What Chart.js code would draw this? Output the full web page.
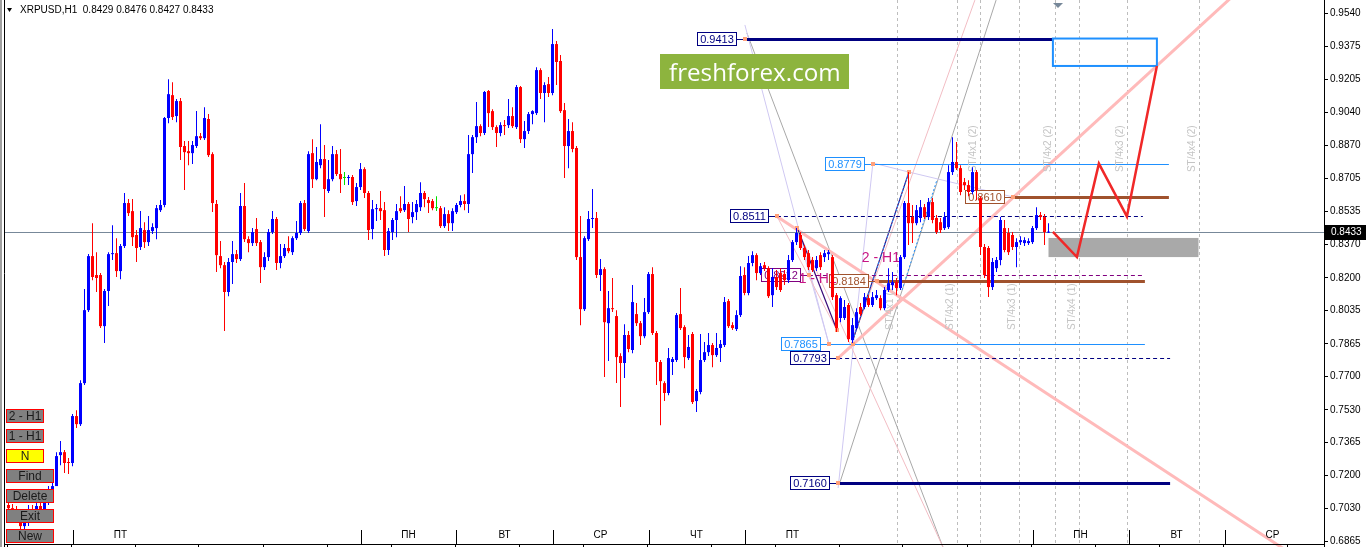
<!DOCTYPE html>
<html><head><meta charset="utf-8">
<script src="https://cdn.jsdelivr.net/npm/chart.js@4.4.1/dist/chart.umd.min.js"></script>
<style>html,body{margin:0;padding:0;background:#fff;overflow:hidden}</style>
</head><body>
<canvas id="c" width="1366" height="547"></canvas>
<script>
const titleText = 'XRPUSD,H1  0.8429 0.8476 0.8427 0.8433';
const lastPrice = 0.8433;

const openP = [
0.7048,0.7032,0.7012,0.6982,0.6941,0.6962,0.7027,0.7012,0.7043,0.7027,
0.7063,0.7124,0.7144,0.7301,0.7316,0.7266,0.7261,0.7499,0.7458,0.7666,
0.8036,0.8310,0.8214,0.8214,0.7955,0.8133,0.8320,0.8325,0.8234,0.8361,
0.8579,0.8538,0.8417,0.8356,0.8442,0.8381,0.8437,0.8452,0.8543,0.8569,
0.9010,0.9126,0.9020,0.9096,0.8868,0.8842,0.8832,0.8868,0.8918,0.8908,
0.9005,0.8827,0.8574,0.8310,0.8264,0.8128,0.8280,0.8320,0.8295,0.8564,
0.8396,0.8376,0.8447,0.8381,0.8254,0.8305,0.8432,0.8498,0.8275,0.8310,
0.8351,0.8330,0.8401,0.8427,0.8579,0.8437,0.8832,0.8700,0.8771,0.8802,
0.8640,0.8700,0.8827,0.8726,0.8706,0.8706,0.8711,0.8589,0.8660,0.8751,
0.8630,0.8447,0.8548,0.8553,0.8543,0.8341,0.8432,0.8493,0.8553,0.8543,
0.8574,0.8508,0.8533,0.8558,0.8630,0.8594,0.8589,0.8553,0.8553,0.8462,
0.8523,0.8477,0.8533,0.8569,0.8589,0.8574,0.8827,0.8913,0.8969,0.8934,
0.9147,0.9045,0.8964,0.8934,0.8974,0.8974,0.9020,0.8964,0.9167,0.8903,
0.8944,0.9030,0.9035,0.9253,0.9137,0.9182,0.9137,0.9385,0.9299,0.9050,
0.8868,0.8944,0.8858,0.8305,0.8041,0.8396,0.8498,0.8503,0.8214,0.8244,
0.7970,0.8046,0.8006,0.7803,0.7768,0.7910,0.7834,0.8016,0.7970,0.7904,
0.8026,0.8219,0.7920,0.7773,0.7666,0.7616,0.7773,0.7783,0.8016,0.7950,
0.7793,0.7915,0.7575,0.7621,0.7783,0.7823,0.7859,0.7808,0.7844,0.7859,
0.8082,0.7960,0.7940,0.8011,0.8214,0.8123,0.8275,0.8315,0.8224,0.8264,
0.8249,0.8112,0.8204,0.8224,0.8219,0.8188,0.8290,0.8381,0.8417,0.8351,
0.8325,0.8290,0.8249,0.8315,0.8305,0.8320,0.8305,0.8112,0.7996,0.7996,
0.8062,0.7884,0.7945,0.8052,0.8052,0.8097,0.8062,0.8097,0.8097,0.8046,
0.8138,0.8163,0.8178,0.8148,0.8305,0.8579,0.8508,0.8477,0.8503,0.8558,
0.8508,0.8584,0.8503,0.8482,0.8452,0.8457,0.8736,0.8787,0.8756,0.8685,
0.8670,0.8635,0.8736,0.8604,0.8356,0.8351,0.8153,0.8249,0.8290,0.8452,
0.8427,0.8417,0.8356,0.8381,0.8376,0.8376,0.8381,0.8452,0.8518,0.8508,
0.8429];

const closeP = [
0.7032,0.7012,0.6982,0.6941,0.6962,0.7027,0.7012,0.7043,0.7027,0.7063,
0.7124,0.7144,0.7296,0.7316,0.7261,0.7261,0.7499,0.7458,0.7666,0.8036,
0.8310,0.8204,0.8199,0.7955,0.8133,0.8320,0.8325,0.8234,0.8361,0.8579,
0.8528,0.8406,0.8351,0.8452,0.8381,0.8442,0.8457,0.8553,0.8569,0.9010,
0.9131,0.9015,0.9096,0.8863,0.8837,0.8832,0.8873,0.8918,0.8908,0.9010,
0.8822,0.8579,0.8315,0.8264,0.8128,0.8280,0.8320,0.8295,0.8564,0.8396,
0.8376,0.8432,0.8376,0.8254,0.8305,0.8432,0.8498,0.8275,0.8310,0.8351,
0.8335,0.8401,0.8427,0.8579,0.8447,0.8827,0.8700,0.8787,0.8802,0.8650,
0.8700,0.8827,0.8726,0.8700,0.8706,0.8711,0.8584,0.8660,0.8751,0.8630,
0.8442,0.8548,0.8553,0.8538,0.8341,0.8437,0.8493,0.8538,0.8538,0.8574,
0.8498,0.8533,0.8574,0.8630,0.8599,0.8579,0.8553,0.8553,0.8462,0.8523,
0.8477,0.8538,0.8569,0.8589,0.8574,0.8827,0.8913,0.8969,0.8934,0.9142,
0.9035,0.8964,0.8934,0.8974,0.8969,0.9020,0.8969,0.9167,0.8903,0.8944,
0.9030,0.9045,0.9253,0.9137,0.9177,0.9137,0.9385,0.9294,0.9045,0.8868,
0.8944,0.8853,0.8305,0.8041,0.8401,0.8498,0.8503,0.8214,0.8244,0.7975,
0.8046,0.8041,0.7798,0.7768,0.7910,0.7839,0.8077,0.7970,0.7904,0.8026,
0.8219,0.7920,0.7773,0.7676,0.7616,0.7793,0.7788,0.8011,0.7945,0.7798,
0.7849,0.7570,0.7626,0.7783,0.7823,0.7859,0.7808,0.7844,0.7864,0.8077,
0.7955,0.7945,0.8011,0.8209,0.8123,0.8275,0.8315,0.8224,0.8259,0.8249,
0.8107,0.8204,0.8153,0.8138,0.8188,0.8290,0.8381,0.8427,0.8351,0.8305,
0.8254,0.8239,0.8290,0.8254,0.8325,0.8330,0.8102,0.7945,0.8097,0.8052,
0.7889,0.7960,0.8026,0.8016,0.8102,0.8062,0.8102,0.8112,0.8046,0.8138,
0.8173,0.8178,0.8148,0.8305,0.8579,0.8477,0.8477,0.8543,0.8558,0.8508,
0.8584,0.8493,0.8432,0.8442,0.8508,0.8736,0.8787,0.8756,0.8635,0.8670,
0.8635,0.8736,0.8645,0.8356,0.8214,0.8153,0.8280,0.8290,0.8493,0.8341,
0.8330,0.8356,0.8381,0.8391,0.8391,0.8386,0.8452,0.8518,0.8508,0.8432,
0.8433];

const highP = [
0.7073,0.7053,0.7043,0.6997,0.6977,0.7048,0.7048,0.7063,0.7058,0.7083,
0.7144,0.7174,0.7316,0.7372,0.7327,0.7286,0.7509,0.7529,0.7681,0.8143,
0.8320,0.8477,0.8330,0.8224,0.8143,0.8330,0.8467,0.8401,0.8371,0.8630,
0.8599,0.8599,0.8442,0.8538,0.8482,0.8513,0.8477,0.8569,0.8594,0.9015,
0.9207,0.9192,0.9106,0.9111,0.8893,0.8893,0.8893,0.9045,0.8934,0.9065,
0.9030,0.8837,0.8594,0.8386,0.8280,0.8300,0.8386,0.8341,0.8630,0.8680,
0.8411,0.8452,0.8503,0.8391,0.8330,0.8447,0.8538,0.8508,0.8371,0.8371,
0.8411,0.8411,0.8488,0.8589,0.8594,0.8842,0.8903,0.8863,0.8979,0.8873,
0.8797,0.8868,0.8848,0.8853,0.8736,0.8721,0.8721,0.8680,0.8782,0.8761,
0.8640,0.8594,0.8574,0.8640,0.8584,0.8452,0.8503,0.8574,0.8614,0.8665,
0.8584,0.8584,0.8594,0.8685,0.8640,0.8609,0.8599,0.8614,0.8564,0.8558,
0.8543,0.8553,0.8579,0.8619,0.8624,0.8924,0.8924,0.9091,0.8979,0.9147,
0.9152,0.9055,0.8974,0.8989,0.9000,0.9106,0.9065,0.9177,0.9172,0.8995,
0.9040,0.9050,0.9268,0.9263,0.9192,0.9218,0.9461,0.9400,0.9329,0.9086,
0.9005,0.8989,0.8868,0.8513,0.8411,0.8538,0.8650,0.8533,0.8295,0.8254,
0.8133,0.8199,0.8036,0.7818,0.7965,0.7930,0.8163,0.8072,0.7981,0.8097,
0.8229,0.8254,0.7930,0.7783,0.7676,0.7844,0.7798,0.8021,0.8148,0.7960,
0.7910,0.7925,0.7636,0.7915,0.7874,0.7920,0.7869,0.7920,0.7884,0.8102,
0.8092,0.7975,0.8036,0.8259,0.8254,0.8310,0.8335,0.8325,0.8275,0.8280,
0.8259,0.8249,0.8239,0.8249,0.8239,0.8315,0.8391,0.8452,0.8432,0.8366,
0.8341,0.8305,0.8310,0.8330,0.8341,0.8341,0.8315,0.8123,0.8107,0.8087,
0.8072,0.7996,0.8046,0.8072,0.8123,0.8112,0.8128,0.8138,0.8112,0.8153,
0.8249,0.8229,0.8199,0.8315,0.8589,0.8736,0.8569,0.8569,0.8594,0.8574,
0.8604,0.8604,0.8518,0.8503,0.8533,0.8771,0.8913,0.8888,0.8771,0.8706,
0.8695,0.8761,0.8746,0.8614,0.8371,0.8361,0.8300,0.8305,0.8508,0.8493,
0.8452,0.8432,0.8401,0.8411,0.8406,0.8401,0.8462,0.8558,0.8533,0.8523,
0.8476];

const lowP = [
0.7012,0.6997,0.6962,0.6921,0.6916,0.6941,0.6982,0.6997,0.7002,0.7012,
0.7048,0.7114,0.7144,0.7250,0.7210,0.7205,0.7245,0.7438,0.7448,0.7656,
0.8026,0.8188,0.8128,0.7945,0.7869,0.8057,0.8290,0.8204,0.8193,0.8351,
0.8513,0.8361,0.8280,0.8341,0.8351,0.8361,0.8422,0.8396,0.8533,0.8558,
0.8984,0.9000,0.8989,0.8797,0.8645,0.8771,0.8777,0.8858,0.8898,0.8898,
0.8812,0.8533,0.8229,0.8249,0.7930,0.8107,0.8168,0.8275,0.8285,0.8381,
0.8330,0.8361,0.8361,0.8173,0.8239,0.8285,0.8422,0.8239,0.8249,0.8300,
0.8325,0.8315,0.8391,0.8417,0.8437,0.8427,0.8655,0.8695,0.8756,0.8508,
0.8630,0.8690,0.8716,0.8630,0.8670,0.8670,0.8569,0.8564,0.8645,0.8604,
0.8391,0.8396,0.8488,0.8493,0.8310,0.8315,0.8391,0.8406,0.8528,0.8533,
0.8432,0.8477,0.8493,0.8538,0.8558,0.8528,0.8543,0.8538,0.8452,0.8452,
0.8437,0.8437,0.8523,0.8558,0.8543,0.8528,0.8731,0.8883,0.8918,0.8924,
0.8964,0.8949,0.8863,0.8918,0.8924,0.8959,0.8959,0.8954,0.8883,0.8858,
0.8929,0.8979,0.9025,0.9106,0.8989,0.9116,0.9126,0.9177,0.9035,0.8706,
0.8756,0.8837,0.8290,0.7960,0.8031,0.8386,0.8452,0.8199,0.8133,0.7697,
0.7778,0.8026,0.7666,0.7545,0.7692,0.7823,0.7818,0.7955,0.7859,0.7894,
0.8016,0.7910,0.7656,0.7453,0.7575,0.7605,0.7707,0.7773,0.7935,0.7742,
0.7783,0.7560,0.7519,0.7610,0.7773,0.7803,0.7747,0.7798,0.7773,0.7849,
0.7945,0.7935,0.7930,0.8001,0.8112,0.8112,0.8259,0.8188,0.8214,0.8234,
0.8097,0.8052,0.8138,0.8128,0.8163,0.8173,0.8280,0.8366,0.8341,0.8290,
0.8239,0.8229,0.8234,0.8239,0.8280,0.8290,0.8087,0.7925,0.7975,0.7986,
0.7874,0.7869,0.7935,0.8006,0.8041,0.8052,0.8052,0.8087,0.8036,0.8036,
0.8128,0.8138,0.8112,0.8138,0.8295,0.8366,0.8376,0.8467,0.8482,0.8498,
0.8493,0.8477,0.8422,0.8427,0.8442,0.8447,0.8721,0.8746,0.8619,0.8645,
0.8614,0.8624,0.8594,0.8315,0.8199,0.8102,0.8138,0.8229,0.8264,0.8330,
0.8315,0.8341,0.8254,0.8366,0.8361,0.8366,0.8371,0.8442,0.8493,0.8366,
0.8427];

// price axis tick labels
const yTickValues = [0.9540,0.9375,0.9205,0.9040,0.8870,0.8705,0.8535,0.8370,0.8200,0.8035,0.7865,0.7700,0.7530,0.7365,0.7200,0.7030,0.6865];

// day labels and the bar index where each day begins
const dayLabels = ['ЧТ','ПТ','ПН','ВТ','СР','ЧТ','ПТ','ПН','ВТ','СР'];
const dayStartIdx = [-8,16,88,112,136,160,184,256,280,304];

// horizontal levels
const levelPrice = [0.9413,0.8779,0.8610,0.8511,0.8212,0.8184,0.7865,0.7793,0.7160];
const levelFrom  = [184.1,216.1,251.1,192.1,200.1,217.1,205.1,207.4,207.4];
const levelTo    = [261.1,290.1,290.1,283.6,283.6,284.1,284.1,290.4,290.4];

// target box and projection box
const targetBoxIdx = [261.1, 287.1];
const targetBoxPrice = [0.9413, 0.9274];
const zoneBoxIdx = [260, 297.5];
const zoneBoxPrice = [0.8402, 0.8305];

// projected path
const zigIdx = [261.1, 267.1, 272.6, 279.6, 287.1];
const zigPrice = [0.8433, 0.8305, 0.8779, 0.8511, 0.9274];

// trend lines
const riseIdx = [207.4, 310], risePrice = [0.7793, 0.9701];
const fallIdx = [192.1, 330], fallPrice = [0.8511, 0.6677];

// projection time lines
const projIdx = [222, 237, 243, 252.5, 261.5, 267.5, 279.5, 297.5];
const stTopText = ['ST/4x1 (2)','ST/4x2 (2)','ST/4x3 (2)','ST/4x4 (2)'];
const stTopLine = [243, 261.5, 279.5, 297.5];
const stBottomText = ['ST/4x1 (1)','ST/4x2 (1)','ST/4x3 (1)','ST/4x4 (1)'];
const stBottomLine = [222, 237, 252.5, 267.5];
const stTopPrice = 0.8736, stBottomPrice = 0.7935;

// thin construction lines: [idx1, price1, idx2, price2]
const grayLines = [[184.6,0.9441,233.6,0.6835],[207.9,0.7165,246.9,0.9608]];
const lavenderLines = [[184.1,0.9482,205.1,0.7864],[216.1,0.8782,207.4,0.7134],[216.1,0.8782,225.1,0.8736],[225.1,0.8736,251.1,0.8610],[197.1,0.8447,205.1,0.7864]];
const pinkLines = [[211.1,0.7885,241.6,0.9608],[197.1,0.8452,233.6,0.6835],[192.1,0.8513,207.1,0.7935]];
const waveLines = [[197.4,0.8442,207.1,0.7935],[211.1,0.7885,225.1,0.8736]];
const dottedLines = [[223.4,0.8138,232.1,0.8696],[211.1,0.7885,225.1,0.8736]];
const anchorIdx = [184.1,192.1,197.1,200.1,207.1,205.1,211.1,207.4,207.4,216.1,225.1,251.1,217.1];
const anchorPrice = [0.9413,0.8511,0.8452,0.8212,0.7935,0.7865,0.7865,0.7793,0.7160,0.8779,0.8736,0.8610,0.8184];
const waveText = ['1 - H1','2 - H1'];
const waveTextIdx = [202.3, 218.1];
const waveTextPrice = [0.8194, 0.8300];

const X_MIN = -2.125, X_MAX = 328.875;
const Y_MAX = 0.96084, Y_MIN = 0.96084 - 0.000507 * 547;

const idx = openP.map((_, i) => i);
const candleColor = idx.map(i => closeP[i] > openP[i] ? '#0000FF' : (closeP[i] < openP[i] ? '#FF0000' : '#00E000'));

const FONT = '"Liberation Sans", Arial, sans-serif';

function seg(ctx, X, Y, l) { ctx.beginPath(); ctx.moveTo(X(l[0]), Y(l[1])); ctx.lineTo(X(l[2]), Y(l[3])); ctx.stroke(); }

const annot = {
  id: 'annot',
  beforeDatasetsDraw(chart) {
    const {ctx, chartArea: a, scales: {x, y}} = chart;
    const X = v => x.getPixelForValue(v), Y = v => y.getPixelForValue(v);
    ctx.save();
    ctx.beginPath(); ctx.rect(a.left, a.top, a.right - a.left, a.bottom - a.top); ctx.clip();

    ctx.strokeStyle = '#BDBDBD'; ctx.lineWidth = 1; ctx.setLineDash([3, 3]);
    projIdx.forEach(v => { const px = Math.round(X(v)) + 0.5; ctx.beginPath(); ctx.moveTo(px, 0); ctx.lineTo(px, 544); ctx.stroke(); });
    ctx.setLineDash([]);

    ctx.fillStyle = '#A9A9A9';
    ctx.fillRect(X(zoneBoxIdx[0]), Y(zoneBoxPrice[0]), X(zoneBoxIdx[1]) - X(zoneBoxIdx[0]), Y(zoneBoxPrice[1]) - Y(zoneBoxPrice[0]));

    ctx.lineWidth = 1;
    ctx.strokeStyle = '#A8A8A8'; grayLines.forEach(l => seg(ctx, X, Y, l));
    ctx.strokeStyle = '#CFC8F2'; lavenderLines.forEach(l => seg(ctx, X, Y, l));
    ctx.strokeStyle = '#F2BDC4'; pinkLines.forEach(l => seg(ctx, X, Y, l));

    ctx.strokeStyle = '#FFBABA'; ctx.lineWidth = 3;
    ctx.beginPath(); ctx.moveTo(X(riseIdx[0]), Y(risePrice[0])); ctx.lineTo(X(riseIdx[1]), Y(risePrice[1])); ctx.stroke();
    ctx.beginPath(); ctx.moveTo(X(fallIdx[0]), Y(fallPrice[0])); ctx.lineTo(X(fallIdx[1]), Y(fallPrice[1])); ctx.stroke();

    ctx.lineWidth = 1.2; ctx.strokeStyle = '#3A0A78'; waveLines.forEach(l => seg(ctx, X, Y, l));
    ctx.lineWidth = 1; ctx.strokeStyle = '#1E90FF'; ctx.setLineDash([2, 2]); dottedLines.forEach(l => seg(ctx, X, Y, l)); ctx.setLineDash([]);

    const lvColor = ['#000080','#1E90FF','#A0522D','#000080','#800080','#A0522D','#1E90FF','#000080','#000080'];
    const lvWidth = [3,1,3,1,1,3,1,1,3];
    const lvDash = [[],[],[],[4,3],[4,3],[],[],[4,3],[]];
    levelPrice.forEach((p, i) => {
      const py = Math.round(Y(p)) + (lvWidth[i] % 2 ? 0.5 : 0);
      ctx.strokeStyle = lvColor[i]; ctx.lineWidth = lvWidth[i]; ctx.setLineDash(lvDash[i]);
      ctx.beginPath(); ctx.moveTo(X(levelFrom[i]), py); ctx.lineTo(X(levelTo[i]), py); ctx.stroke();
      ctx.setLineDash([]);
      ctx.font = '11px ' + FONT;
      const text = p.toFixed(4);
      const w = Math.ceil(ctx.measureText(text).width) + 6;
      const right = Math.round(X(levelFrom[i])) - 8, left = right - w, top = Math.round(Y(p)) - 7;
      ctx.fillStyle = '#fff'; ctx.fillRect(left, top, w, 14);
      ctx.strokeStyle = lvColor[i]; ctx.lineWidth = 1;
      ctx.strokeRect(left + 0.5, top + 0.5, w - 1, 13);
      ctx.beginPath(); ctx.moveTo(right, Math.round(Y(p)) + 0.5); ctx.lineTo(X(levelFrom[i]), Math.round(Y(p)) + 0.5); ctx.stroke();
      ctx.fillStyle = lvColor[i]; ctx.textAlign = 'center'; ctx.textBaseline = 'middle';
      ctx.fillText(text, left + w / 2, top + 7.5);
    });

    ctx.strokeStyle = '#1E90FF'; ctx.lineWidth = 2;
    ctx.strokeRect(X(targetBoxIdx[0]), Y(targetBoxPrice[0]), X(targetBoxIdx[1]) - X(targetBoxIdx[0]), Y(targetBoxPrice[1]) - Y(targetBoxPrice[0]));

    ctx.strokeStyle = '#778899'; ctx.lineWidth = 1;
    const cp = Math.round(Y(lastPrice)) + 0.5;
    ctx.beginPath(); ctx.moveTo(4, cp); ctx.lineTo(a.right, cp); ctx.stroke();

    ctx.strokeStyle = '#F02828'; ctx.lineWidth = 2.5; ctx.lineJoin = 'miter';
    ctx.beginPath();
    zigIdx.forEach((v, i) => { i ? ctx.lineTo(X(v), Y(zigPrice[i])) : ctx.moveTo(X(v), Y(zigPrice[i])); });
    ctx.stroke();

    ctx.fillStyle = '#C4C4C4'; ctx.font = '10px ' + FONT; ctx.textAlign = 'left'; ctx.textBaseline = 'bottom';
    const rot = (t, px, py) => { ctx.save(); ctx.translate(px, py); ctx.rotate(-Math.PI / 2); ctx.fillText(t, 0, 0); ctx.restore(); };
    stTopText.forEach((t, i) => rot(t, Math.round(X(stTopLine[i])) - 2, Y(stTopPrice)));
    stBottomText.forEach((t, i) => rot(t, Math.round(X(stBottomLine[i])) - 2, Y(stBottomPrice)));

    ctx.fillStyle = '#FFA07A';
    anchorIdx.forEach((v, i) => ctx.fillRect(Math.round(X(v)) - 2, Math.round(Y(anchorPrice[i])) - 2, 4, 4));

    ctx.fillStyle = '#C71585'; ctx.font = '14px ' + FONT; ctx.textAlign = 'center'; ctx.textBaseline = 'middle';
    waveText.forEach((t, i) => ctx.fillText(t, X(waveTextIdx[i]), Y(waveTextPrice[i])));

    ctx.restore();
  },
  afterDraw(chart) {
    const {ctx, chartArea: a, scales: {x, y}} = chart;
    const X = v => x.getPixelForValue(v), Y = v => y.getPixelForValue(v);
    ctx.save();

    ctx.fillStyle = '#8DB43E'; ctx.fillRect(660, 54, 189, 35);
    ctx.fillStyle = '#fff'; ctx.textAlign = 'left'; ctx.textBaseline = 'alphabetic';
    ctx.font = '28px "Open Sans", sans-serif';
    let lw = ctx.measureText('freshforex.com').width;
    const fs = 28 * 172 / lw;
    ctx.font = fs.toFixed(1) + 'px "Open Sans", sans-serif';
    ctx.fillText('freshforex.com', 669, 81);

    ctx.strokeStyle = '#000'; ctx.lineWidth = 1;
    ctx.beginPath(); ctx.moveTo(4, 544.5); ctx.lineTo(a.right, 544.5); ctx.stroke();
    for (let k = -0.5; k < 330; k += 16) { const px = Math.round(X(k)) + 0.5; if (px > 4 && px < a.right) { ctx.beginPath(); ctx.moveTo(px, 544); ctx.lineTo(px, 547); ctx.stroke(); } }
    ctx.font = '10px ' + FONT; ctx.fillStyle = '#000'; ctx.textAlign = 'center'; ctx.textBaseline = 'middle';
    dayLabels.forEach((t, i) => {
      const sx = Math.round(X(dayStartIdx[i])) + 0.5;
      if (sx > 4 && sx < a.right) { ctx.beginPath(); ctx.moveTo(sx, 530); ctx.lineTo(sx, 544); ctx.stroke(); }
      ctx.fillText(t, X(dayStartIdx[i] + 12), 535);
    });

    ctx.fillStyle = '#A0A0A0'; ctx.fillRect(0, 0, 2, 547);
    ctx.strokeStyle = '#000'; ctx.beginPath(); ctx.moveTo(4.5, 0); ctx.lineTo(4.5, 547); ctx.stroke();

    const btns = [['2 - H1',6,409,38,'#808080'],['1 - H1',6,429,38,'#808080'],['N',6,449,38,'#FFFF00'],['Find',6,469,48,'#808080'],['Delete',6,489,48,'#808080'],['Exit',6,509,48,'#808080'],['New',6,529,48,'#808080']];
    ctx.font = '12px ' + FONT; ctx.textAlign = 'center'; ctx.textBaseline = 'middle';
    btns.forEach(b => {
      ctx.fillStyle = b[4]; ctx.fillRect(b[1], b[2], b[3], 14);
      ctx.strokeStyle = '#FF0000'; ctx.lineWidth = 1; ctx.strokeRect(b[1] + 0.5, b[2] + 0.5, b[3] - 1, 13);
      ctx.fillStyle = '#1A1A1A'; ctx.fillText(b[0], b[1] + b[3] / 2, b[2] + 7.5);
    });

    ctx.fillStyle = '#000';
    ctx.beginPath(); ctx.moveTo(7, 8); ctx.lineTo(12, 8); ctx.lineTo(9.5, 12); ctx.closePath(); ctx.fill();
    ctx.font = '10px ' + FONT; ctx.textAlign = 'left'; ctx.textBaseline = 'middle';
    ctx.fillText(titleText, 20, 10.5);

    ctx.fillStyle = '#778899';
    ctx.beginPath(); ctx.moveTo(1053, 3); ctx.lineTo(1063, 3); ctx.lineTo(1058, 8); ctx.closePath(); ctx.fill();

    const cp = Math.round(Y(lastPrice));
    ctx.fillStyle = '#000'; ctx.fillRect(a.right + 1, cp - 7, 42, 15);
    ctx.fillStyle = '#fff'; ctx.font = '10px ' + FONT; ctx.textAlign = 'left'; ctx.textBaseline = 'middle';
    ctx.fillText(lastPrice.toFixed(4), a.right + 7, cp + 0.5);
    ctx.restore();
  }
};

new Chart(document.getElementById('c'), {
  type: 'bar',
  data: {
    datasets: [
      { label: 'body', data: idx.map(i => ({x: i, y: [openP[i], closeP[i]]})), backgroundColor: candleColor, borderWidth: 0, barThickness: 3, grouped: false, minBarLength: 1, inflateAmount: 0, order: 1 },
      { label: 'wick', data: idx.map(i => ({x: i, y: [lowP[i], highP[i]]})), backgroundColor: candleColor, borderWidth: 0, barThickness: 1, grouped: false, inflateAmount: 0, order: 2 }
    ]
  },
  options: {
    responsive: false, animation: false, devicePixelRatio: 1,
    layout: { padding: 0 },
    plugins: { legend: { display: false }, tooltip: { enabled: false } },
    scales: {
      x: { type: 'linear', min: X_MIN, max: X_MAX, display: false, offset: false },
      y: {
        position: 'right', min: Y_MIN, max: Y_MAX,
        afterFit(a) { a.width = 42; a.paddingTop = 0; a.paddingBottom = 0; },
        afterBuildTicks(a) { a.ticks = yTickValues.map(v => ({value: v})); },
        grid: { drawOnChartArea: false, drawTicks: true, tickLength: 4, color: '#000' },
        border: { display: true, color: '#000', width: 1 },
        ticks: { color: '#000', font: { family: 'Liberation Sans', size: 10 }, padding: 2, autoSkip: false, callback: v => v.toFixed(4) }
      }
    }
  },
  plugins: [annot]
});
</script>
</body></html>
